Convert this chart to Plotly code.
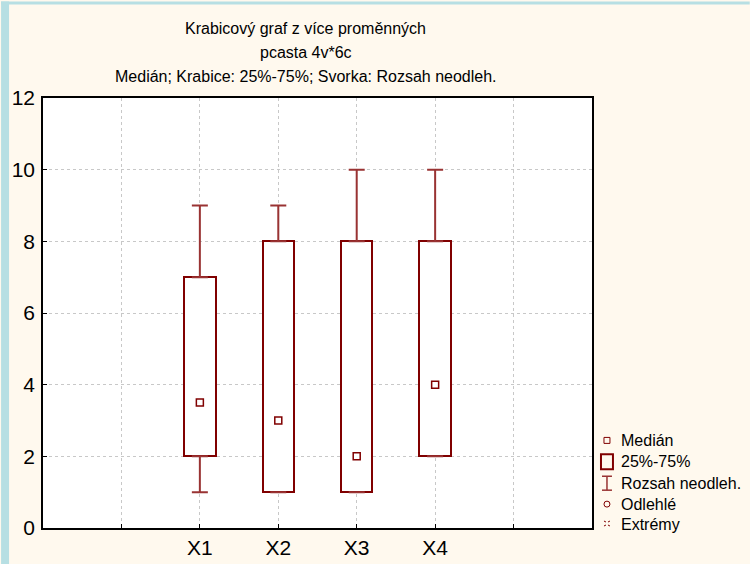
import plotly.graph_objects as go

# ---- data ----
categories = ["X1", "X2", "X3", "X4"]
cat_pos = [2, 3, 4, 5]
q1 = [2, 1, 1, 2]
q3 = [7, 8, 8, 8]
medians = [3.5, 3, 2, 4]
mins = [1, 1, 1, 2]
maxs = [9, 9, 10, 10]
tick_labels = ["", "X1", "X2", "X3", "X4", ""]
legend_labels = ["Medián", "25%-75%", "Rozsah neodleh.", "Odlehlé", "Extrémy"]
title_lines = ["Krabicový graf z více proměnných", "pcasta 4v*6c",
               "Medián; Krabice: 25%-75%; Svorka: Rozsah neodleh."]

DARK = "#800000"
WHISK = "#993333"
FONT = "Liberation Sans, Arial, sans-serif"

W, H0 = 750, 564
H = 571                      # page height actually captured
K = H / H0                   # vertical compensation
L, R = 42, 592
T, B = 97 * K, 529 * K


def px2x(px):
    return (px - L) / (R - L)


def py2y(py):
    return (B - py * K) / (B - T)


fig = go.Figure()

# boxes
fig.add_trace(go.Bar(
    x=cat_pos, base=q1, y=[b - a for a, b in zip(q1, q3)], width=0.4,
    marker=dict(color="white", line=dict(color=DARK, width=2)),
    showlegend=False, hoverinfo="skip"))

# upper whiskers
fig.add_trace(go.Scatter(
    x=cat_pos, y=q3, mode="markers", marker=dict(size=0.1, color="rgba(0,0,0,0)"),
    error_y=dict(type="data", symmetric=False, array=[m - q for m, q in zip(maxs, q3)],
                 arrayminus=[0] * 4, color=WHISK, thickness=2, width=8),
    showlegend=False, hoverinfo="skip"))
# lower whiskers
fig.add_trace(go.Scatter(
    x=cat_pos, y=q1, mode="markers", marker=dict(size=0.1, color="rgba(0,0,0,0)"),
    error_y=dict(type="data", symmetric=False, array=[0] * 4,
                 arrayminus=[q - m for q, m in zip(q1, mins)], color=WHISK, thickness=2, width=8),
    showlegend=False, hoverinfo="skip"))
# medians
fig.add_trace(go.Scatter(
    x=cat_pos, y=medians, mode="markers",
    marker=dict(symbol="square-open", size=7, color=DARK, line=dict(width=1.5)),
    showlegend=False))

shapes = []
# light blue border strips
BLUE = "#b7dfe3"
shapes.append(dict(type="rect", xref="paper", yref="paper", x0=px2x(0), x1=px2x(8),
                   y0=py2y(H0 + 10), y1=py2y(0), fillcolor=BLUE, line=dict(width=0), layer="below"))
shapes.append(dict(type="rect", xref="paper", yref="paper", x0=px2x(0), x1=px2x(W),
                   y0=py2y(3), y1=py2y(0), fillcolor=BLUE, line=dict(width=0), layer="below"))

# manual legend symbols
sx = 607
rows = [441, 462, 484, 505, 525]
shapes.append(dict(type="rect", xref="paper", yref="paper", x0=px2x(sx - 3), x1=px2x(sx + 3),
                   y0=py2y(rows[0] + 3), y1=py2y(rows[0] - 3), line=dict(color=DARK, width=1)))
shapes.append(dict(type="rect", xref="paper", yref="paper", x0=px2x(sx - 6), x1=px2x(sx + 6),
                   y0=py2y(rows[1] + 8), y1=py2y(rows[1] - 7), line=dict(color=DARK, width=2)))
for seg in [(sx, rows[2] - 7, sx, rows[2] + 7), (sx - 5, rows[2] - 7, sx + 5, rows[2] - 7),
            (sx - 5, rows[2] + 7, sx + 5, rows[2] + 7)]:
    shapes.append(dict(type="line", xref="paper", yref="paper", x0=px2x(seg[0]), y0=py2y(seg[1]),
                       x1=px2x(seg[2]), y1=py2y(seg[3]), line=dict(color=WHISK, width=1.5)))
shapes.append(dict(type="circle", xref="paper", yref="paper", x0=px2x(sx - 3), x1=px2x(sx + 3),
                   y0=py2y(rows[3] + 3), y1=py2y(rows[3] - 3), line=dict(color=DARK, width=1)))
for seg in [(sx - 3, rows[4] - 3, sx - 1, rows[4] - 2), (sx + 1, rows[4] - 2, sx + 3, rows[4] - 3),
            (sx - 3, rows[4] + 2, sx - 1, rows[4] + 1), (sx + 1, rows[4] + 1, sx + 3, rows[4] + 2)]:
    shapes.append(dict(type="line", xref="paper", yref="paper", x0=px2x(seg[0]), y0=py2y(seg[1]),
                       x1=px2x(seg[2]), y1=py2y(seg[3]), line=dict(color=DARK, width=1)))

annotations = []
for lbl, ry in zip(legend_labels, rows):
    annotations.append(dict(text=lbl, xref="paper", yref="paper", x=px2x(619), y=py2y(ry),
                            xanchor="left", yanchor="middle", showarrow=False,
                            font=dict(family=FONT, size=16, color="black")))
# title lines
for line, ty in zip(title_lines, [27, 51, 75]):
    annotations.append(dict(text=line, xref="paper", yref="paper", x=px2x(305), y=py2y(ty),
                            xanchor="center", yanchor="middle", showarrow=False,
                            font=dict(family=FONT, size=16, color="black")))

fig.update_layout(
    width=W, height=H, autosize=False,
    margin=dict(l=L, r=W - R, t=T, b=H - B, pad=0),
    paper_bgcolor="#fff9ee",
    plot_bgcolor="white",
    shapes=shapes,
    annotations=annotations,
    showlegend=False,
    bargap=0,
)

fig.update_xaxes(range=[0, 7], tickvals=[1, 2, 3, 4, 5, 6], ticktext=tick_labels,
                 showgrid=True, gridcolor="#c8c8c8", griddash="dot", gridwidth=1,
                 showline=True, linecolor="black", linewidth=1.5, mirror=True,
                 ticks="inside", ticklen=4, tickcolor="black",
                 tickfont=dict(family=FONT, size=21, color="black"), zeroline=False,
                 fixedrange=True)
fig.update_yaxes(range=[0, 12], tickvals=[0, 2, 4, 6, 8, 10, 12],
                 showgrid=True, gridcolor="#c8c8c8", griddash="dot", gridwidth=1,
                 showline=True, linecolor="black", linewidth=1.5, mirror=True,
                 ticks="inside", ticklen=4, tickcolor="black",
                 tickfont=dict(family=FONT, size=21, color="black"), zeroline=False,
                 ticklabelstandoff=2, fixedrange=True)

page_fix = (
    "var h=document.documentElement, b=document.body;"
    "h.style.margin='0'; h.style.padding='0'; h.style.overflow='hidden';"
    "b.style.margin='0'; b.style.padding='0'; b.style.overflow='hidden';"
    "b.style.background='#fff9ee';"
)
fig.write_html("out.html",
               config={"displayModeBar": False, "responsive": False},
               post_script=page_fix)
